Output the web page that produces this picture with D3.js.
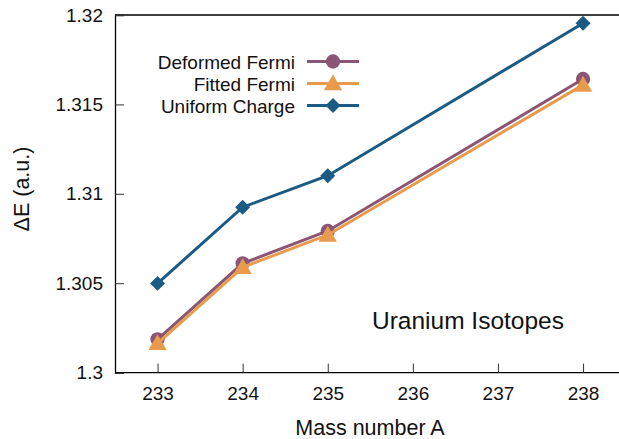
<!DOCTYPE html>
<html><head><meta charset="utf-8">
<script src="https://cdn.jsdelivr.net/npm/d3@7"></script>
<style>body{margin:0;background:#fff}svg{display:block;font-family:"Liberation Sans",Arial,sans-serif}</style>
</head><body><svg id="c" width="619" height="439"></svg>
<script>
const massNumbers = [233, 234, 235, 238];
const deformedFermi = [1.30186, 1.30611, 1.30792, 1.31642];
const fittedFermi = [1.30164, 1.30589, 1.30770, 1.31609];
const uniformCharge = [1.30499, 1.30925, 1.31101, 1.31954];
const xTicks = [233, 234, 235, 236, 237, 238];
const yTicks = [1.3, 1.305, 1.31, 1.315, 1.32];
const seriesNames = ["Deformed Fermi", "Fitted Fermi", "Uniform Charge"];

const colors = ["#8b5574", "#e89b4c", "#1b5b83"];
const shapes = [d3.symbolCircle, d3.symbolTriangle, d3.symbolSquare];
const sizes = [160, 145, 112];
const rot = [0, 0, 45];
const dy = [0, 1.5, 0];

const svg = d3.select("#c");
const L = 115, T = 15, B = 372.6;
const x = d3.scaleLinear().domain([232.5, 238.5]).range([L, L + 6 * 85.1]);
const y = d3.scaleLinear().domain([1.3, 1.32]).range([B, T]);

svg.append("line").attr("x1", L).attr("x2", 619).attr("y1", T).attr("y2", T).attr("stroke", "#000").attr("stroke-width", 1.3);

const xa = svg.append("g").attr("transform", `translate(0,${B})`)
  .call(d3.axisBottom(x).tickValues(xTicks).tickFormat(d3.format("d")).tickSize(-9).tickPadding(14));
const ya = svg.append("g").attr("transform", `translate(${L},0)`)
  .call(d3.axisLeft(y).tickValues(yTicks).tickFormat(d => String(+d.toFixed(3))).tickSize(-9).tickPadding(12));
[xa, ya].forEach(a => {
  a.select(".domain").attr("stroke", "#000").attr("stroke-width", 1.3);
  a.selectAll(".tick line").attr("stroke", "#333").attr("stroke-width", 1);
  a.selectAll("text").attr("font-size", 19).attr("fill", "#111").attr("font-family", "'Liberation Sans',Arial,sans-serif");
});
xa.select(".domain").attr("d", `M${L},0H619`);

svg.append("text").attr("x", 370).attr("y", 435).attr("text-anchor", "middle").attr("font-size", 21.5).attr("fill", "#111").text("Mass number A");
svg.append("text").attr("transform", "translate(28.5,189) rotate(-90)").attr("text-anchor", "middle").attr("font-size", 21.5).attr("fill", "#111").text("ΔE (a.u.)");
svg.append("text").attr("x", 468).attr("y", 328.5).attr("text-anchor", "middle").attr("font-size", 24.5).attr("fill", "#111").text("Uranium Isotopes");

const allSeries = [deformedFermi, fittedFermi, uniformCharge];
const line = d3.line().x((d, i) => x(massNumbers[i])).y(d => y(d));
allSeries.forEach((s, k) => {
  const g = svg.append("g");
  g.append("path").datum(s).attr("d", line).attr("fill", "none").attr("stroke", colors[k]).attr("stroke-width", 3);
  g.selectAll("path.m").data(s).join("path").attr("class", "m")
    .attr("transform", (d, i) => `translate(${x(massNumbers[i])},${y(d) + dy[k]}) rotate(${rot[k]})`)
    .attr("d", d3.symbol().type(shapes[k]).size(sizes[k])).attr("fill", colors[k]);
});

seriesNames.forEach((n, k) => {
  const ly = 61.5 + k * 22;
  const g = svg.append("g");
  g.append("text").attr("x", 295).attr("y", ly + 7).attr("text-anchor", "end").attr("font-size", 19).attr("fill", "#111").text(n);
  g.append("line").attr("x1", 307).attr("x2", 359).attr("y1", ly).attr("y2", ly).attr("stroke", colors[k]).attr("stroke-width", 3);
  g.append("path").attr("transform", `translate(333,${ly + dy[k]}) rotate(${rot[k]})`)
    .attr("d", d3.symbol().type(shapes[k]).size(sizes[k])).attr("fill", colors[k]);
});
</script></body></html>
